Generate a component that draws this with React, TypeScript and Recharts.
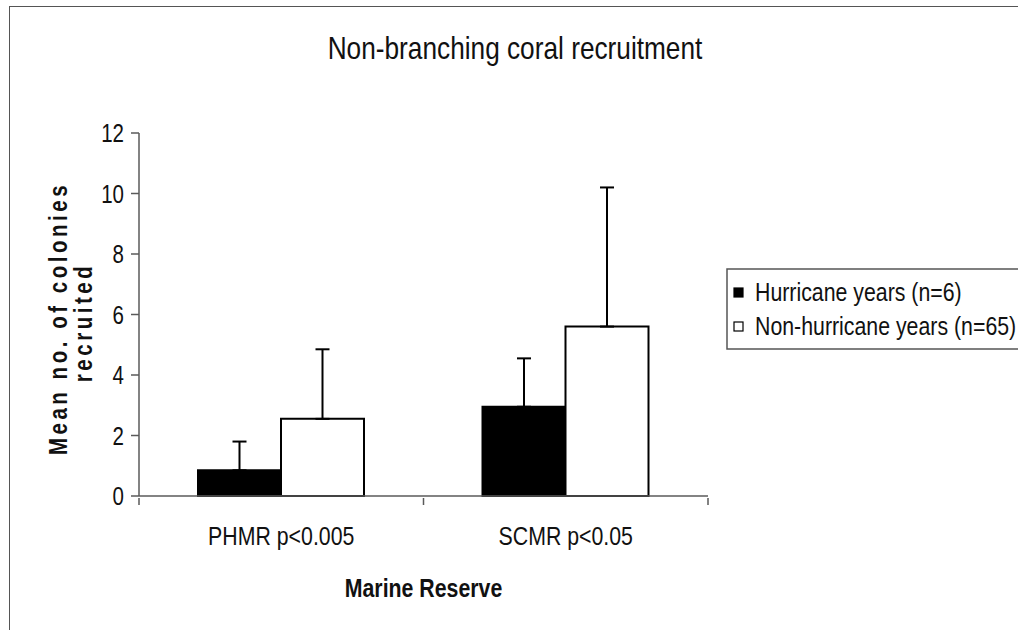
import { BarChart, Bar, XAxis, YAxis, ErrorBar } from 'recharts';

const categories = ['PHMR p<0.005', 'SCMR p<0.05'];
const hurricaneMeans = [0.85, 2.95];
const hurricaneErrors = [0.95, 1.6];
const nonHurricaneMeans = [2.55, 5.6];
const nonHurricaneErrors = [2.3, 4.6];
const yTicks = [0, 2, 4, 6, 8, 10, 12];

const seriesNames = ['Hurricane years (n=6)', 'Non-hurricane years (n=65)'];
const seriesFills = ['#000', '#fff'];

const data = categories.map((name, i) => ({
  name,
  hurricane: hurricaneMeans[i],
  hurricaneErr: [0, hurricaneErrors[i]],
  nonHurricane: nonHurricaneMeans[i],
  nonHurricaneErr: [0, nonHurricaneErrors[i]],
}));

// Arial Narrow look: Liberation Sans squeezed horizontally
const FONT = "'Liberation Sans', Arial, sans-serif";
const NARROW = 0.82;
const AXIS = '#5a5a5a';
const FRAME = '#8c8c8c';

const NarrowText = ({ x, y, anchor = 'start', size = 25, bold = false, spacing = 0, children }: any) => (
  <g transform={`translate(${x}, ${y}) scale(${NARROW}, 1)`}>
    <text x={0} y={0} textAnchor={anchor} fontFamily={FONT} fontSize={size} fontWeight={bold ? 'bold' : 'normal'} letterSpacing={spacing} fill="#111">
      {children}
    </text>
  </g>
);

// category label plus tick marks between categories (Excel style)
const CategoryTick = (props: any) => {
  const { x, y, payload, index, visibleTicksCount } = props;
  const half = payload.offset || 0;
  return (
    <g>
      <line x1={x - half} y1={y - 6} x2={x - half} y2={y + 1} stroke={AXIS} strokeWidth={1.5} />
      {index === visibleTicksCount - 1 && (
        <line x1={x + half} y1={y - 6} x2={x + half} y2={y + 1} stroke={AXIS} strokeWidth={1.5} />
      )}
      <NarrowText x={x} y={y + 41} anchor="middle" size={26}>{payload.value}</NarrowText>
      {index === 0 && (
        <NarrowText x={x + half} y={y + 93} anchor="middle" size={26} bold>Marine Reserve</NarrowText>
      )}
    </g>
  );
};

const ValueTick = (props: any) => {
  const { x, y, payload } = props;
  return <NarrowText x={x - 5} y={y + 9} anchor="end" size={25}>{payload.value}</NarrowText>;
};

const YLabel = (props: any) => {
  const { viewBox } = props;
  const cy = viewBox.y + viewBox.height / 2 + 4;
  return (
    <g transform={`translate(0, ${cy}) rotate(-90)`}>
      <NarrowText x={0} y={67} anchor="middle" size={25} bold spacing={4.3}>Mean no. of colonies</NarrowText>
      <NarrowText x={-4} y={92} anchor="middle" size={25} bold spacing={4.3}>recruited</NarrowText>
    </g>
  );
};

export default function App() {
  return (
    <div style={{ position: 'relative', width: 1018, height: 630, overflow: 'hidden', background: '#fff' }}>
      <style>{`body{margin:0}`}</style>
      <div
        style={{
          position: 'absolute',
          left: 9,
          top: 6,
          width: 1100,
          height: 700,
          border: '1.5px solid #555',
        }}
      />
      <div style={{ position: 'absolute', left: 0, top: 0 }}>
        <BarChart
          width={1018}
          height={630}
          data={data}
          margin={{ top: 133, right: 310, left: 0, bottom: 0 }}
          barGap={0}
          barSize={83}
        >
          <XAxis
            dataKey="name"
            height={134}
            axisLine={{ stroke: AXIS, strokeWidth: 1.5 }}
            tickLine={false}
            tick={<CategoryTick />}
            interval={0}
          />
          <XAxis xAxisId="top" dataKey="name" orientation="top" height={0} tick={false} tickLine={false} axisLine={{ stroke: FRAME, strokeWidth: 1.5 }} />
          <YAxis
            width={139}
            domain={[0, 12]}
            ticks={yTicks}
            interval={0}
            tickSize={8}
            axisLine={{ stroke: AXIS, strokeWidth: 1.5 }}
            tickLine={{ stroke: AXIS, strokeWidth: 1.5 }}
            tick={<ValueTick />}
            label={<YLabel />}
          />
          <YAxis yAxisId="right" orientation="right" width={0} domain={[0, 12]} tick={false} tickLine={false} axisLine={{ stroke: FRAME, strokeWidth: 1.5 }} />
          <Bar dataKey="hurricane" name={seriesNames[0]} fill={seriesFills[0]} stroke="#000" strokeWidth={2} isAnimationActive={false}>
            <ErrorBar dataKey="hurricaneErr" width={7} stroke="#000" strokeWidth={2} direction="y" />
          </Bar>
          <Bar dataKey="nonHurricane" name={seriesNames[1]} fill={seriesFills[1]} stroke="#000" strokeWidth={2} isAnimationActive={false}>
            <ErrorBar dataKey="nonHurricaneErr" width={7} stroke="#000" strokeWidth={2} direction="y" />
          </Bar>
        </BarChart>
      </div>
      {/* title and legend */}
      <svg width={1018} height={630} style={{ position: 'absolute', left: 0, top: 0, pointerEvents: 'none' }}>
        <NarrowText x={515} y={59} anchor="middle" size={32}>Non-branching coral recruitment</NarrowText>
        <rect x={727} y={269} width={400} height={80} fill="#fff" stroke="#555" strokeWidth={1.5} />
        {seriesNames.map((n, i) => (
          <g key={n}>
            <rect x={734} y={288 + i * 34} width={9} height={9} fill={seriesFills[i]} stroke="#000" strokeWidth={1.2} />
            <NarrowText x={755} y={301 + i * 34} size={26}>{n}</NarrowText>
          </g>
        ))}
      </svg>
    </div>
  );
}
